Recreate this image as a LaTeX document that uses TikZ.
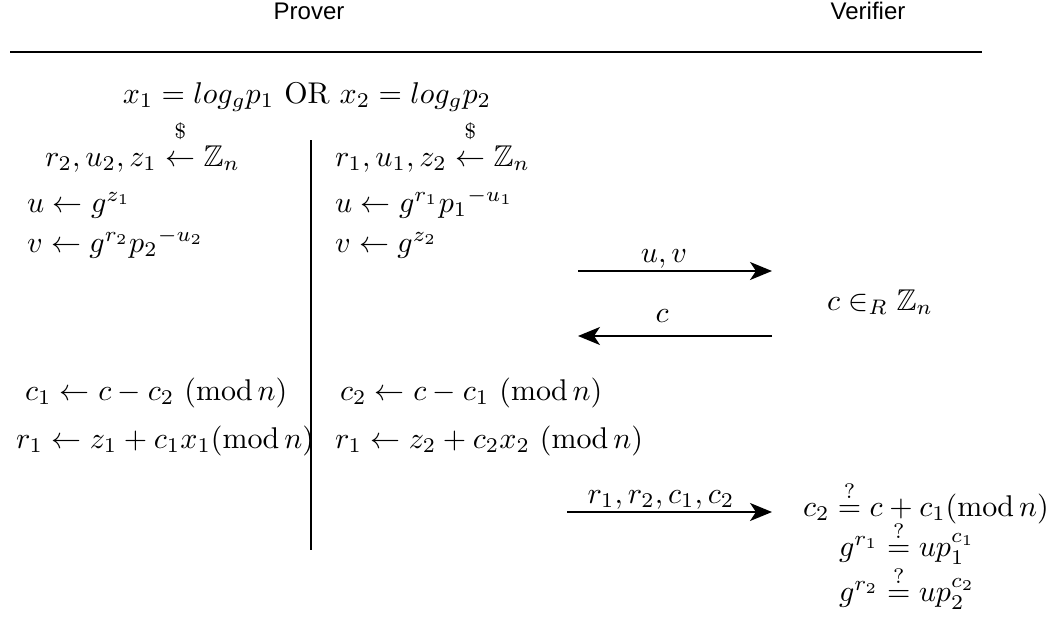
\documentclass[tikz,border=0pt]{standalone}
\usepackage{amsmath,amssymb}
\usepackage{fontspec}
\newfontfamily\arialf{Liberation Sans}
\usetikzlibrary{arrows.meta}
\newcommand{\mth}[1]{\scalebox{3}{$#1$}}
\newcommand{\rnd}{\overset{\raisebox{3.5pt}{$\scriptstyle\$$}}{\leftarrow}}
\newcommand{\qeq}{\stackrel{?}{=}}
\begin{document}
\begin{tikzpicture}[x=1pt,y=-1pt,
  m/.style={inner sep=0pt},
  ttl/.style={inner sep=0pt, font=\arialf\fontsize{24}{28}\selectfont},
  rule/.style={line width=2pt},
  msg/.style={line width=2pt, -{Stealth[length=22pt,width=18pt,inset=6pt]}}]
\useasboundingbox (0,0) rectangle (1050,626);
% titles
\node[ttl] (prover) at (309,11) {Prover};
\node[ttl] (verifier) at (868,11) {Verifier};
\coordinate (hl) at (10,52);
\coordinate (hr) at (982,52);
\draw[rule] (hl) -- (hr);
% statement
\node[m, anchor=base] (stmt) at (307,103) {\mth{x_1 = log_g p_1 \ \mathrm{OR}\ x_2 = log_g p_2}};
% left branch
\node[m, anchor=base west] (l1) at (45,166) {\mth{r_2, u_2, z_1 \rnd \mathbb{Z}_n}};
\node[m, anchor=base west] (l2) at (27,212) {\mth{u \leftarrow g^{z_1}}};
\node[m, anchor=base west] (l3) at (27,252) {\mth{v \leftarrow g^{r_2} {p_2}^{-u_2}}};
\node[m, anchor=base west] (l4) at (25,400) {\mth{c_1 \leftarrow c - c_2 ~(\mathrm{mod}\,n)}};
\node[m, anchor=base west] (l5) at (16,448) {\mth{r_1 \leftarrow z_1 + c_1x_1(\mathrm{mod}\,n)}};
% separator
\coordinate (vt) at (311,140);
\coordinate (vb) at (311,550);
\draw[rule] (vt) -- (vb);
% right branch
\node[m, anchor=base west] (r1) at (335,166) {\mth{r_1, u_1, z_2 \rnd \mathbb{Z}_n}};
\node[m, anchor=base west] (r2) at (335,212) {\mth{u \leftarrow g^{r_1} {p_1}^{-u_1}}};
\node[m, anchor=base west] (r3) at (335,252) {\mth{v \leftarrow g^{z_2}}};
\node[m, anchor=base west] (r4) at (340,400) {\mth{c_2 \leftarrow c - c_1 ~(\mathrm{mod}\,n)}};
\node[m, anchor=base west] (r5) at (335,448) {\mth{r_1 \leftarrow z_2 + c_2x_2 ~(\mathrm{mod}\,n)}};
% messages
\coordinate (a1s) at (578,271);
\coordinate (a1e) at (772,271);
\draw[msg] (a1s) -- (a1e);
\node[m, anchor=base] (lab1) at (664,262) {\mth{u, v}};
\coordinate (a2s) at (772,336);
\coordinate (a2e) at (578,336);
\draw[msg] (a2s) -- (a2e);
\node[m, anchor=base] (lab2) at (662,322) {\mth{c}};
\coordinate (a3s) at (567,512);
\coordinate (a3e) at (772,512);
\draw[msg] (a3s) -- (a3e);
\node[m, anchor=base] (lab3) at (661,503) {\mth{r_1, r_2, c_1, c_2}};
% verifier
\node[m, anchor=base] (chal) at (880,310) {\mth{c \in_R \mathbb{Z}_n}};
\node[m, anchor=base west] (v1) at (803,516) {\mth{c_2 \qeq c + c_1(\mathrm{mod}\,n)}};
\node[m, anchor=base] (v2) at (907,556) {\mth{g^{r_1} \qeq up_1^{c_1}}};
\node[m, anchor=base] (v3) at (907,601) {\mth{g^{r_2} \qeq up_2^{c_2}}};
\end{tikzpicture}
\end{document}
